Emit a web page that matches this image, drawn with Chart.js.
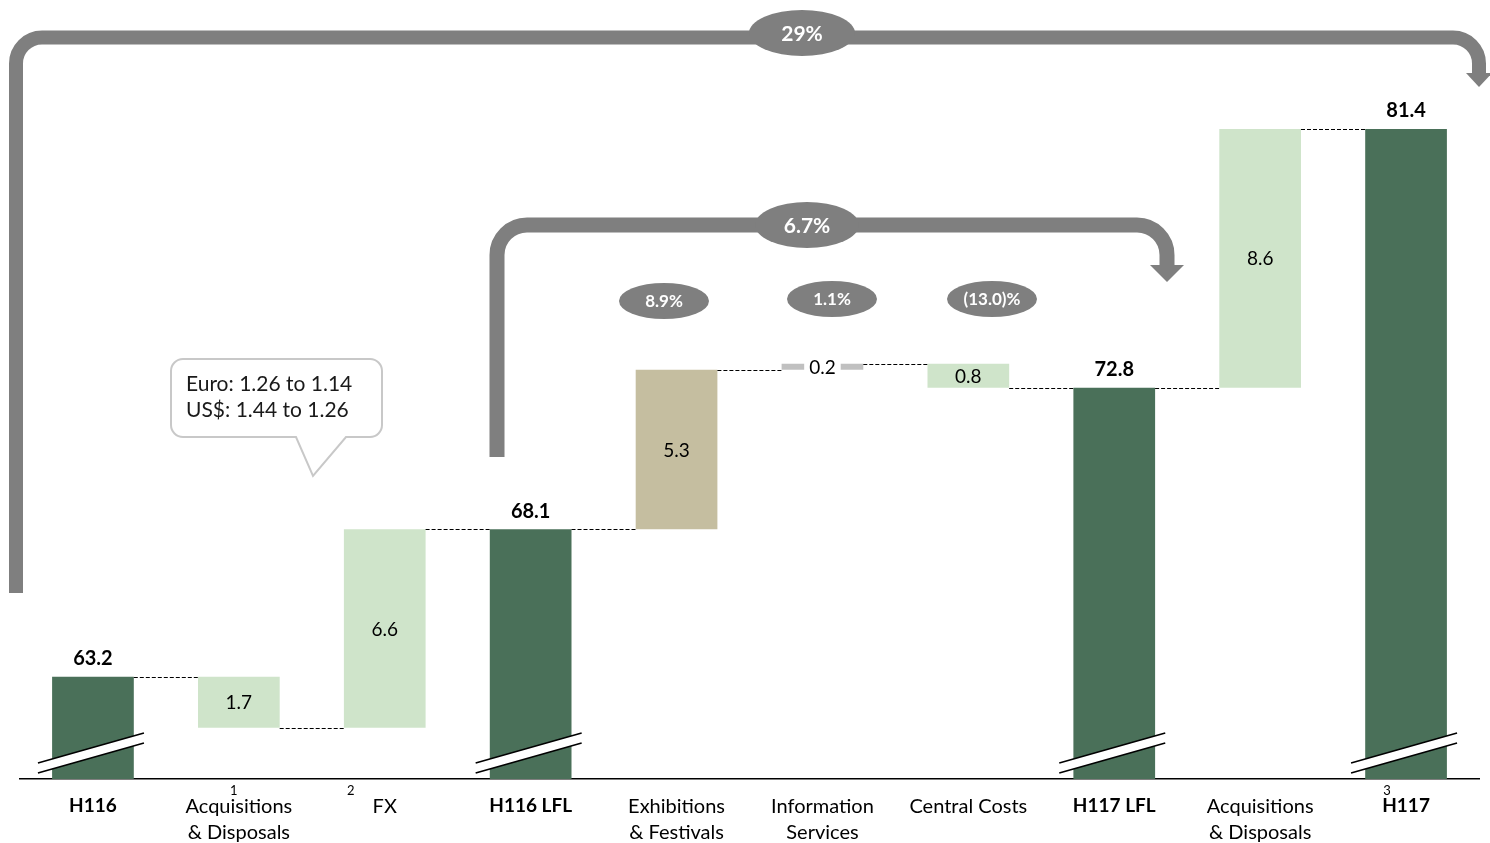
<!DOCTYPE html>
<html>
<head>
<meta charset="utf-8">
<script src="https://cdn.jsdelivr.net/npm/chart.js@4.4.1/dist/chart.umd.min.js"></script>
<style>
  html, body { margin: 0; padding: 0; background: #fff; }
  #wrap { width: 1490px; height: 843px; position: relative; }
</style>
</head>
<body>
<div id="wrap"><canvas id="waterfall"></canvas></div>
<script>
// --- data -------------------------------------------------------------
const categories = [
    ['H116'], ['Acquisitions', '& Disposals'], ['FX'], ['H116 LFL'],
    ['Exhibitions', '& Festivals'], ['Information', 'Services'], ['Central Costs'],
    ['H117 LFL'], ['Acquisitions', '& Disposals'], ['H117']
];
const totals = [63.2, null, null, 68.1, null, null, null, 72.8, null, 81.4];
const deltas = [null, -1.7, 6.6, null, 5.3, 0.2, -0.8, null, 8.6, null];
const footnotes = ['', '1', '2', '', '', '', '', '', '', '3'];
const growthBig = ['29%', '6.7%'];
const growthSmall = ['8.9%', '1.1%', '(13.0)%'];
const calloutLines = ['Euro: 1.26 to 1.14', 'US$: 1.44 to 1.26'];

const AXIS_MIN = 59.8;
const AXIS_MAX = 85.35;

// --- colours ----------------------------------------------------------
const DARK = '#4a7059';
const LIGHT = '#cfe4ca';
const TAN = '#c5bea0';
const GREY = '#c0c0c0';
const ARROW = '#7f7f7f';
const barColors = [DARK, LIGHT, LIGHT, DARK, TAN, GREY, LIGHT, DARK, LIGHT, DARK];
const FONT = 'Lato, "Open Sans", sans-serif';

// running totals -> floating bars
const ranges = [];
const levels = [];   // level after each bar
let run = 0;
categories.forEach((c, i) => {
    if (totals[i] !== null) {
        run = totals[i];
        ranges.push([AXIS_MIN, totals[i]]);
    } else {
        const start = run;
        run = +(run + deltas[i]).toFixed(2);
        ranges.push([Math.min(start, run), Math.max(start, run)]);
    }
    levels.push(run);
});

// --- decorations plugin -----------------------------------------------
function bracket(ctx, x1, yBottom, yTop, x2, headTop, tip, hw, lw, r) {
    ctx.save();
    ctx.strokeStyle = ARROW;
    ctx.fillStyle = ARROW;
    ctx.lineWidth = lw;
    ctx.lineCap = 'butt';
    ctx.beginPath();
    ctx.moveTo(x1, yBottom);
    ctx.arcTo(x1, yTop, x1 + r, yTop, r);
    ctx.arcTo(x2, yTop, x2, yTop + r, r);
    ctx.lineTo(x2, headTop + 1);
    ctx.stroke();
    ctx.beginPath();
    ctx.moveTo(x2 - hw, headTop);
    ctx.lineTo(x2 + hw, headTop);
    ctx.lineTo(x2, tip);
    ctx.closePath();
    ctx.fill();
    ctx.restore();
}

function bubble(ctx, cx, cy, rx, ry, text, size) {
    ctx.save();
    ctx.fillStyle = ARROW;
    ctx.beginPath();
    ctx.ellipse(cx, cy, rx, ry, 0, 0, Math.PI * 2);
    ctx.fill();
    ctx.fillStyle = '#fff';
    ctx.font = `bold ${size}px ${FONT}`;
    ctx.textAlign = 'center';
    ctx.textBaseline = 'middle';
    ctx.fillText(text, cx, cy + 1);
    ctx.restore();
}

const decorations = {
    id: 'decorations',
    afterDatasetsDraw(chart) {
        const ctx = chart.ctx;
        const meta = chart.getDatasetMeta(0);
        const y = chart.scales.y;
        const x = chart.scales.x;
        const bottom = chart.chartArea.bottom;

        // dashed connectors
        ctx.save();
        ctx.strokeStyle = '#000';
        ctx.lineWidth = 1;
        ctx.setLineDash([4, 2]);
        for (let i = 0; i < meta.data.length - 1; i++) {
            const a = meta.data[i], b = meta.data[i + 1];
            const yy = Math.round(y.getPixelForValue(levels[i])) + 0.5;
            ctx.beginPath();
            ctx.moveTo(a.x + a.width / 2, yy);
            ctx.lineTo(b.x - b.width / 2, yy);
            ctx.stroke();
        }
        ctx.restore();

        // value labels
        ctx.save();
        ctx.textAlign = 'center';
        ctx.textBaseline = 'middle';
        meta.data.forEach((bar, i) => {
            if (totals[i] !== null) {
                ctx.font = `bold 20px ${FONT}`;
                ctx.fillStyle = '#000';
                ctx.fillText(totals[i].toFixed(1), bar.x, y.getPixelForValue(totals[i]) - 18);
            } else {
                const cy = (y.getPixelForValue(ranges[i][0]) + y.getPixelForValue(ranges[i][1])) / 2;
                const txt = Math.abs(deltas[i]).toFixed(1);
                ctx.font = `19px ${FONT}`;
                if (Math.abs(deltas[i]) < 0.5) {
                    const w = ctx.measureText(txt).width + 10;
                    ctx.fillStyle = '#fff';
                    ctx.fillRect(bar.x - w / 2, cy - 10, w, 20);
                }
                ctx.fillStyle = '#000';
                ctx.fillText(txt, bar.x, cy + 1);
            }
        });
        ctx.restore();

        // axis break marks on the total bars
        ctx.save();
        meta.data.forEach((bar, i) => {
            if (totals[i] === null) return;
            const l = bar.x - 55, r = bar.x + 51;
            const yl = bottom - 16, yr = bottom - 46, gap = 10;
            ctx.fillStyle = '#fff';
            ctx.beginPath();
            ctx.moveTo(l, yl); ctx.lineTo(r, yr);
            ctx.lineTo(r, yr + gap); ctx.lineTo(l, yl + gap);
            ctx.closePath();
            ctx.fill();
            ctx.strokeStyle = '#000';
            ctx.lineWidth = 1.6;
            ctx.beginPath();
            ctx.moveTo(l, yl); ctx.lineTo(r, yr);
            ctx.moveTo(l, yl + gap); ctx.lineTo(r, yr + gap);
            ctx.stroke();
        });
        ctx.restore();

        // footnote markers
        ctx.save();
        ctx.font = `13px ${FONT}`;
        ctx.fillStyle = '#000';
        ctx.textAlign = 'center';
        ctx.textBaseline = 'middle';
        const fnOffsets = [0, -5, -34, 0, 0, 0, 0, 0, 0, -19];
        footnotes.forEach((f, i) => {
            if (!f) return;
            ctx.fillText(f, x.getPixelForValue(i) + fnOffsets[i], bottom + 12);
        });
        ctx.restore();

        // growth brackets
        bracket(ctx, 16, 593, 37.5, 1479, 73, 87, 13, 14, 26);
        bracket(ctx, 497, 457, 225, 1167, 265, 282, 17, 15, 30);
        bubble(ctx, 802, 33, 53, 23, growthBig[0], 21);
        bubble(ctx, 807, 225, 52, 23, growthBig[1], 21);
        bubble(ctx, 664, 301, 45, 18, growthSmall[0], 17);
        bubble(ctx, 832, 299, 45, 18, growthSmall[1], 17);
        bubble(ctx, 992, 299, 45, 18, growthSmall[2], 17);

        // FX callout
        ctx.save();
        ctx.strokeStyle = '#c8c8c8';
        ctx.fillStyle = '#fff';
        ctx.lineWidth = 2;
        const cl = 171, ct = 359, cr = 382, cb = 437, rad = 12;
        ctx.beginPath();
        ctx.moveTo(cl + rad, ct);
        ctx.arcTo(cr, ct, cr, cb, rad);
        ctx.arcTo(cr, cb, cl, cb, rad);
        ctx.lineTo(346, cb);
        ctx.lineTo(313, 476);
        ctx.lineTo(296, cb);
        ctx.arcTo(cl, cb, cl, ct, rad);
        ctx.arcTo(cl, ct, cr, ct, rad);
        ctx.closePath();
        ctx.fill();
        ctx.stroke();
        ctx.fillStyle = '#1a1a1a';
        ctx.font = `21px ${FONT}`;
        ctx.textAlign = 'left';
        ctx.textBaseline = 'middle';
        calloutLines.forEach((t, k) => ctx.fillText(t, 186, 384 + k * 26));
        ctx.restore();
    }
};

// --- chart ------------------------------------------------------------
new Chart(document.getElementById('waterfall'), {
    type: 'bar',
    data: {
        labels: categories,
        datasets: [{
            data: ranges,
            backgroundColor: barColors,
            borderWidth: 0,
            borderSkipped: false,
            barPercentage: 0.56,
            categoryPercentage: 1.0
        }]
    },
    options: {
        responsive: true,
        maintainAspectRatio: false,
        animation: false,
        layout: { padding: { left: 20, right: 11, top: 10, bottom: 0 } },
        plugins: { legend: { display: false }, tooltip: { enabled: false } },
        scales: {
            x: {
                grid: { display: false, drawTicks: false },
                border: { display: true, color: '#000', width: 1.5 },
                ticks: {
                    color: '#000',
                    padding: 15,
                    autoSkip: false,
                    maxRotation: 0,
                    font: (c) => {
                        const bold = totals[c.index] !== null;
                        return { family: FONT, size: bold ? 19 : 20, lineHeight: 1.3, weight: bold ? 'bold' : 'normal' };
                    }
                },
                afterFit(scale) { scale.height = 64; }
            },
            y: { display: false, min: AXIS_MIN, max: AXIS_MAX }
        }
    },
    plugins: [decorations]
});
</script>
</body>
</html>
